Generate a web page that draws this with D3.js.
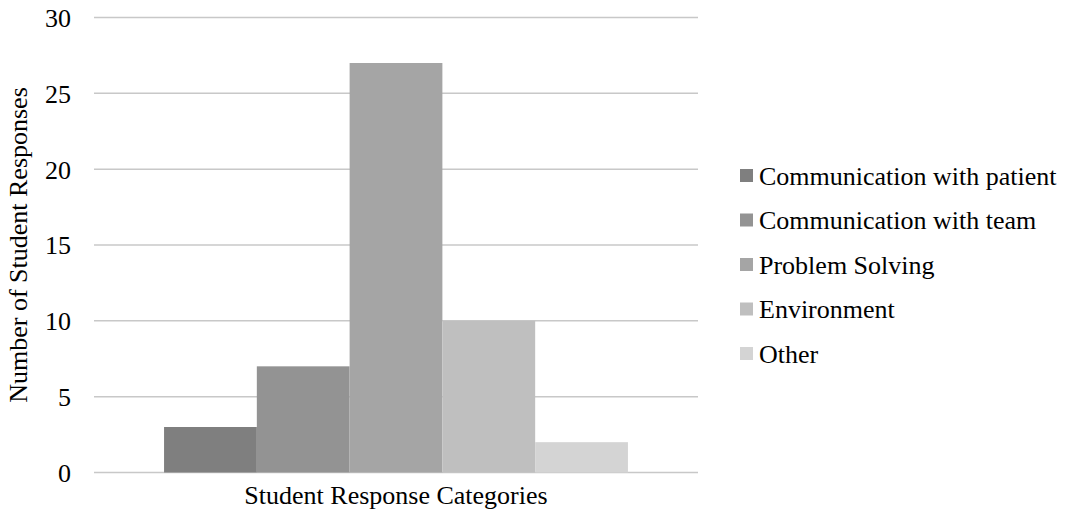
<!DOCTYPE html>
<html>
<head>
<meta charset="utf-8">
<script src="https://cdn.jsdelivr.net/npm/d3@7"></script>
<style>
  html, body { margin: 0; padding: 0; background: #fff; }
  svg { display: block; }
</style>
</head>
<body>
<svg id="chart" width="1073" height="512"></svg>
<script>
const categories = ["Student Response Categories"];
const seriesNames = ["Communication with patient", "Communication with team", "Problem Solving", "Environment", "Other"];
const seriesValues = [3, 7, 27, 10, 2];
const seriesColors = ["#7f7f7f", "#939393", "#a5a5a5", "#bfbfbf", "#d4d4d4"];
const yTicks = [0, 5, 10, 15, 20, 25, 30];
const yTitle = "Number of Student Responses";

const FONT = "'Liberation Serif', 'Times New Roman', 'DejaVu Serif', serif";
const svg = d3.select("#chart");
const plot = { left: 94, right: 698, top: 17.5, bottom: 472.5 };

const y = d3.scaleLinear().domain([0, 30]).range([plot.bottom, plot.top]);
const x0 = d3.scaleBand().domain(categories).range([plot.left, plot.right]).paddingInner(0).paddingOuter(0.151);
const x1 = d3.scaleBand().domain(seriesNames).range([0, x0.bandwidth()]).padding(0);

// gridlines
svg.append("g").selectAll("line").data(yTicks).join("line")
  .attr("x1", plot.left).attr("x2", plot.right)
  .attr("y1", d => y(d)).attr("y2", d => y(d))
  .attr("stroke", "#c8c8c8").attr("stroke-width", 1.5);

// y axis labels
const yAxis = d3.axisLeft(y).tickValues(yTicks).tickSize(0).tickPadding(0);
const ya = svg.append("g").attr("transform", `translate(${plot.left - 23},0)`).call(yAxis);
ya.select(".domain").remove();
ya.attr("font-family", null).attr("font-size", null);
ya.selectAll("text").style("font-family", FONT)
  .style("font-size", "26px").attr("fill", "#000").attr("dy", "0.34em");

// bars
const g = svg.append("g");
categories.forEach(cat => {
  g.selectAll("rect").data(seriesNames.map((s, i) => ({ s, v: seriesValues[i], c: seriesColors[i] })))
    .join("rect")
    .attr("x", d => x0(cat) + x1(d.s))
    .attr("y", d => y(d.v))
    .attr("width", x1.bandwidth())
    .attr("height", d => y(0) - y(d.v))
    .attr("fill", d => d.c);
});

// x axis category label
const xAxis = d3.axisBottom(x0).tickSize(0).tickPadding(0);
const xa = svg.append("g").attr("transform", `translate(0,${plot.bottom + 31})`).call(xAxis);
xa.select(".domain").remove();
xa.attr("font-family", null).attr("font-size", null);
xa.selectAll("text").style("font-family", FONT)
  .style("font-size", "26px").attr("fill", "#000").attr("dy", "0");

// y title
svg.append("text")
  .attr("transform", `translate(27,${(plot.top + plot.bottom) / 2}) rotate(-90)`)
  .attr("text-anchor", "middle")
  .style("font-family", FONT)
  .style("font-size", "26px")
  .attr("fill", "#000")
  .text(yTitle);

// legend
const legend = svg.append("g");
const legY = d3.scalePoint().domain(seriesNames).range([176, 354]);
const items = legend.selectAll("g").data(seriesNames).join("g")
  .attr("transform", d => `translate(740,${legY(d)})`);
items.append("rect").attr("x", 0).attr("y", -7).attr("width", 13).attr("height", 13)
  .attr("fill", (d, i) => seriesColors[i]);
items.append("text").attr("x", 19).attr("y", 0).attr("dy", "0.34em")
  .style("font-family", FONT).style("font-size", "26px").attr("fill", "#000").text(d => d);
</script>
</body>
</html>
